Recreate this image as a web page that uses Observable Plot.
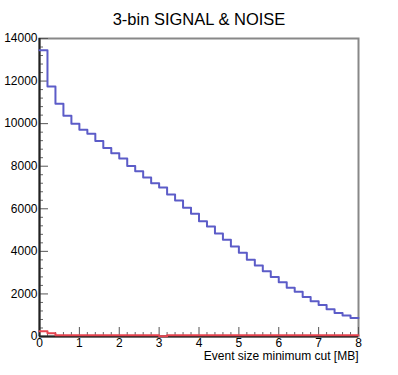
<!DOCTYPE html>
<html><head><meta charset="utf-8">
<script src="https://cdn.jsdelivr.net/npm/d3@7"></script>
<script src="https://cdn.jsdelivr.net/npm/@observablehq/plot@0.6"></script>
<style>body{margin:0;background:#fff} svg{display:block}</style>
</head><body><div id="chart"></div>
<script>
const title = "3-bin SIGNAL & NOISE";
const xTitle = "Event size minimum cut [MB]";
// lower bin edges [MB], 40 bins of 0.2 MB, plus the upper edge
const binEdges = [0,0.2,0.4,0.6,0.8,1,1.2,1.4,1.6,1.8,2,2.2,2.4,2.6,2.8,3,3.2,3.4,3.6,3.8,
  4,4.2,4.4,4.6,4.8,5,5.2,5.4,5.6,5.8,6,6.2,6.4,6.6,6.8,7,7.2,7.4,7.6,7.8,8];
const signal = [13450,11740,10940,10370,9990,9710,9520,9190,8860,8610,
  8360,8010,7760,7470,7200,7000,6670,6390,6050,5770,
  5410,5170,4840,4540,4230,3940,3610,3330,3070,2790,
  2550,2290,2100,1860,1660,1480,1280,1100,990,870];
const noise = [250,150,60,60,60,60,60,60,60,60,
  60,60,60,60,60,15,60,60,60,60,
  60,60,60,60,60,60,60,60,60,60,
  60,60,60,60,60,60,60,60,60,60];
const yMajor = [0,2000,4000,6000,8000,10000,12000,14000];
const yMinor = [400,800,1200,1600,2400,2800,3200,3600,4400,4800,5200,5600,6400,6800,7200,7600,
  8400,8800,9200,9600,10400,10800,11200,11600,12400,12800,13200,13600];
const xMajor = [0,1,2,3,4,5,6,7,8];
const xMinor = [0.2,0.4,0.6,0.8,1.2,1.4,1.6,1.8,2.2,2.4,2.6,2.8,3.2,3.4,3.6,3.8,4.2,4.4,4.6,4.8,
  5.2,5.4,5.6,5.8,6.2,6.4,6.6,6.8,7.2,7.4,7.6,7.8];

const stepData = (vals) => binEdges.map((x, i) => ({x, y: vals[Math.min(i, vals.length - 1)]}));

const chart = Plot.plot({
  width: 398, height: 375,
  marginLeft: 39, marginRight: 40, marginTop: 38, marginBottom: 39,
  style: {fontFamily: "'Liberation Sans', Arial, sans-serif", fontSize: "12px", color: "#000", background: "#fff"},
  x: {domain: [0, 8]},
  y: {domain: [0, 14000]},
  marks: [
    Plot.frame({stroke: "#888", strokeWidth: 2}),
    Plot.axisY(yMinor, {tickSize: -4, fill: "none", stroke: "#666", label: null}),
    Plot.axisY(yMajor, {tickSize: -9, tickPadding: 11, stroke: "#555", label: null, fontSize: 12, tickFormat: d => String(d)}),
    Plot.axisX(xMinor, {tickSize: -4, fill: "none", stroke: "#666", label: null}),
    Plot.axisX(xMajor, {tickSize: -9, tickPadding: 11, stroke: "#555", label: null, fontSize: 12, tickFormat: d => String(d)}),
    Plot.ruleX([0], {stroke: "#222", strokeWidth: 2}),
    Plot.ruleY([0], {stroke: "#222", strokeWidth: 2}),
    Plot.line(stepData(noise), {x: "x", y: "y", curve: "step-after", stroke: "#e5434f", strokeWidth: 2}),
    Plot.line(stepData(signal), {x: "x", y: "y", curve: "step-after", stroke: "#5c5cc8", strokeWidth: 2}),
    Plot.text([title], {frameAnchor: "top", dy: -25, fontSize: 16.5}),
    Plot.text([xTitle], {frameAnchor: "bottom-right", textAnchor: "end", dy: 23, fontSize: 12})
  ]
});
document.getElementById("chart").append(chart);
</script>
</body></html>
